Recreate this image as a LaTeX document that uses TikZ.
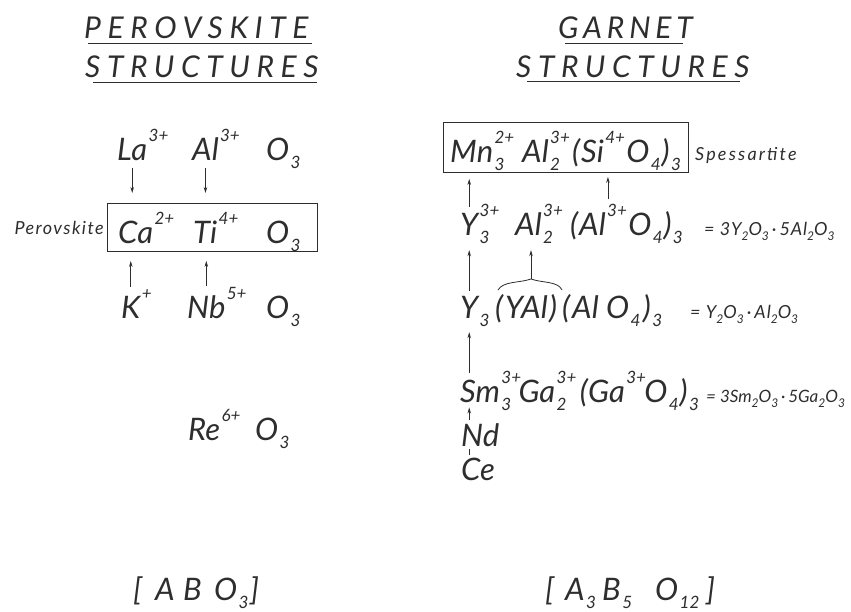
\documentclass[tikz,border=0pt]{standalone}
\usepackage{fontspec}
\setmainfont{Lato}
\usetikzlibrary{arrows.meta}
\definecolor{ink}{HTML}{2E2E2E}
\newcommand\dn[1]{\raisebox{-0.3em}{\fontsize{12}{12}\selectfont #1}}
\tikzset{
 big/.style={font=\fontsize{31}{31}\selectfont\itshape, inner sep=0pt, anchor=base west, text=ink},
 supr/.style={font=\fontsize{17}{17}\selectfont\itshape, inner sep=0pt, anchor=base west, text=ink},
 sml/.style={font=\fontsize{18}{18}\selectfont\itshape, inner sep=0pt, anchor=base west, text=ink},
 head/.style={font=\fontsize{30}{30}\selectfont\itshape\addfontfeatures{LetterSpace=22}, inner sep=0pt, anchor=base west, text=ink},
 arr/.style={draw=ink, line width=0.8pt, -{Stealth[length=6pt,width=3.5pt]}},
 frame/.style={draw=ink, line width=0.9pt, inner sep=0pt, anchor=north west},
 uline/.style={draw=ink, line width=1pt},
 thin/.style={draw=ink, line width=0.8pt},
 up/.style={xshift=1pt,yshift=19pt},
 lo/.style={xshift=1pt,yshift=-8pt},
}
\begin{document}
\begin{tikzpicture}[x=1pt,y=-1pt]
\fill[white] (0,0) rectangle (851,611);
\path[use as bounding box] (0,0) rectangle (851,611);

% ---------- headings
\node[head] (ph1) at (84,38) {PEROVSKITE};
\node[head] (ph2) at (85,77) {STRUCTURES};
\draw[uline] (88,43) -- (312,43);
\draw[uline] (93,82) -- (317,82);
\node[head] (gh1) at (558,38) {\addfontfeatures{LetterSpace=16}GARNET};
\node[head] (gh2) at (516,77) {STRUCTURES};
\draw[uline] (565,43) -- (683,43);
\draw[uline] (527,81) -- (740,81);

% ---------- perovskite
\node[big] (La) at (117,160) {La};
\node[supr] (La-u) at ([up]La.base east) {3+};
\node[big] (Al1) at (192,160) {Al};
\node[supr] (Al1-u) at ([up]Al1.base east) {3+};
\node[big] (O1) at (266,160) {O};
\node[supr] (O1-d) at ([lo]O1.base east) {3};

\node[frame, minimum width=210pt, minimum height=48pt] (pbox) at (107,203) {};
\node[sml, anchor=base east] (plab) at (104,234) {\addfontfeatures{LetterSpace=8}Perovskite};
\node[big] (Ca) at (118,243) {Ca};
\node[supr] (Ca-u) at ([up]Ca.base east) {2+};
\node[big] (Ti) at (193,243) {Ti};
\node[supr] (Ti-u) at ([up]Ti.base east) {4+};
\node[big] (O2) at (266,243) {O};
\node[supr] (O2-d) at ([lo]O2.base east) {3};

\node[big] (K) at (121,318) {K};
\node[supr] (K-u) at ([up]K.base east) {+};
\node[big] (Nb) at (187,318) {Nb};
\node[supr] (Nb-u) at ([up]Nb.base east) {5+};
\node[big] (O3) at (266,318) {O};
\node[supr] (O3-d) at ([lo]O3.base east) {3};

\draw[arr] ([yshift=-8pt]La.south) -- ([yshift=10pt]La.south |- pbox.north);
\draw[arr] ([yshift=-8pt]Al1.south) -- ([yshift=10pt]Al1.south |- pbox.north);
\draw[arr] ([yshift=9pt]K.north) -- ([yshift=-9pt]K.north |- pbox.south);
\draw[arr] ([yshift=9pt]Nb.north) -- ([yshift=-9pt]Nb.north |- pbox.south);

\node[big] (Re) at (188,440) {Re};
\node[supr] (Re-u) at ([up]Re.base east) {6+};
\node[big] (O4) at (255,440) {O};
\node[supr] (O4-d) at ([lo]O4.base east) {3};

\node[big] (pb1) at (133,600) {[};
\node[big] (pA) at (155,600) {A};
\node[big] (pB) at (183,600) {B};
\node[big] (pO) at (214,600) {O};
\node[supr] (pO-d) at ([lo]pO.base east) {3};
\node[big] (pb2) at (250,600) {]};

% ---------- garnet
\node[frame, minimum width=245pt, minimum height=50pt] (gbox) at (443,122) {};
\node[big] (Mn) at (450,162) {Mn};
\node[supr] (Mn-d) at ([lo]Mn.base east) {3};
\node[supr] (Mn-u) at ([up]Mn.base east) {2+};
\node[big] (Al2) at (522,162) {Al};
\node[supr] (Al2-d) at ([lo]Al2.base east) {2};
\node[supr] (Al2-u) at ([up]Al2.base east) {3+};
\node[big] (gp1) at (572,162) {(};
\node[big] (Si) at (581,162) {Si};
\node[supr] (Si-u) at ([up]Si.base east) {4+};
\node[big] (O5) at ([xshift=1pt]Si-u.base east |- Si.base) {O};
\node[supr] (O5-d) at ([lo]O5.base east) {4};
\node[big] (gp2) at ([xshift=0.5pt]O5-d.base east |- O5.base) {)};
\node[supr] (gp2-d) at ([lo]gp2.base east) {3};
\node[sml] (spess) at (695,160) {\addfontfeatures{LetterSpace=12}Spessartite};

% Y row
\node[big] (Y1) at (460,235) {Y};
\node[supr] (Y1-d) at ([lo]Y1.base east) {3};
\node[supr] (Y1-u) at ([up]Y1.base east) {3+};
\node[big] (Al3) at (515,235) {Al};
\node[supr] (Al3-d) at ([lo]Al3.base east) {2};
\node[supr] (Al3-u) at ([up]Al3.base east) {3+};
\node[big] (yp1) at (570,235) {(};
\node[big] (Al4) at (579,235) {Al};
\node[supr] (Al4-u) at ([up]Al4.base east) {3+};
\node[big] (O6) at ([xshift=1pt]Al4-u.base east |- Al4.base) {O};
\node[supr] (O6-d) at ([lo]O6.base east) {4};
\node[big] (yp2) at ([xshift=0.5pt]O6-d.base east |- O6.base) {)};
\node[supr] (yp2-d) at ([lo]yp2.base east) {3};
\node[sml] (eq1) at (704,235) {\addfontfeatures{LetterSpace=5}= 3Y\dn{2}O\dn{3}\,·\,5Al\dn{2}O\dn{3}};

% YAl row
\node[big] (Y2) at (460,318) {Y};
\node[supr] (Y2-d) at ([lo]Y2.base east) {3};
\node[big] (ap1) at (495,318) {(};
\node[big] (YAl) at (505,318) {YAl};
\node[big] (ap2) at (549,318) {)};
\node[big] (ap3) at (562,318) {(};
\node[big] (Al5) at (572,318) {Al};
\node[big] (O7) at (606,318) {O};
\node[supr] (O7-d) at ([lo]O7.base east) {4};
\node[big] (ap4) at ([xshift=2pt]O7-d.base east |- O7.base) {)};
\node[supr] (ap4-d) at ([lo]ap4.base east) {3};
\node[sml] (eq2) at (690,318) {\addfontfeatures{LetterSpace=6}= Y\dn{2}O\dn{3}\,·\,Al\dn{2}O\dn{3}};

% Sm row
\node[big] (Sm) at (460,402) {Sm};
\node[supr] (Sm-d) at ([lo]Sm.base east) {3};
\node[supr] (Sm-u) at ([up]Sm.base east) {3+};
\node[big] (Ga1) at ([xshift=-3pt]Sm-u.base east |- Sm.base) {Ga};
\node[supr] (Ga1-d) at ([lo]Ga1.base east) {2};
\node[supr] (Ga1-u) at ([up]Ga1.base east) {3+};
\node[big] (sp1) at ([xshift=3pt]Ga1-u.base east |- Ga1.base) {(};
\node[big] (Ga2) at (sp1.base east) {Ga};
\node[supr] (Ga2-u) at ([up]Ga2.base east) {3+};
\node[big] (O8) at ([xshift=-2pt]Ga2-u.base east |- Ga2.base) {O};
\node[supr] (O8-d) at ([lo]O8.base east) {4};
\node[big] (sp2) at ([xshift=0.5pt]O8-d.base east |- O8.base) {)};
\node[supr] (sp2-d) at ([lo]sp2.base east) {3};
\node[sml, font=\fontsize{17}{17}\selectfont\itshape] (eq3) at (706,402) {= 3Sm\dn{2}O\dn{3}\,·\,5Ga\dn{2}O\dn{3}};

\node[big] (Nd) at (461,446) {Nd};
\node[big] (Ce) at (461,480) {Ce};

% brace over (YAl)
\coordinate (bt) at (531,279);
\draw[thin] (498,290) .. controls (503,281) and (520,283) .. (bt) .. controls (542,283) and (558,281) .. (562,290);

% garnet connectors
\draw[arr] ([yshift=6pt]Y1.north) -- ([yshift=-6pt]Y1.north |- gbox.south);
\draw[arr] ([xshift=1pt,yshift=4pt]Al4-u.north west) -- ([xshift=1pt,yshift=-4pt]Al4-u.north west |- gbox.south);
\draw[arr] ([yshift=5pt]Y2.north) -- ([yshift=-15pt]Y1.south);
\draw[arr] (bt) -- ([yshift=-15pt]bt |- Al3.south);
\draw[arr] ([yshift=6pt]Y2.south |- Sm.north) -- ([yshift=-14pt]Y2.south);
\draw[arr] ([yshift=3pt]Y2.south |- Nd.north) -- ([yshift=-5pt]Y2.south |- Sm.south);
\draw[thin] ([yshift=-3pt]Y2.south |- Nd.south) -- ([yshift=2pt]Y2.south |- Ce.north);

\node[big] (gb1) at (545,600) {[};
\node[big] (gA) at (565,600) {A};
\node[supr] (gA-d) at ([lo]gA.base east) {3};
\node[big] (gB) at (602,600) {B};
\node[supr] (gB-d) at ([lo]gB.base east) {5};
\node[big] (gO) at (655,600) {O};
\node[supr] (gO-d) at ([lo]gO.base east) {12};
\node[big] (gb2) at (706,600) {]};
\end{tikzpicture}
\end{document}
